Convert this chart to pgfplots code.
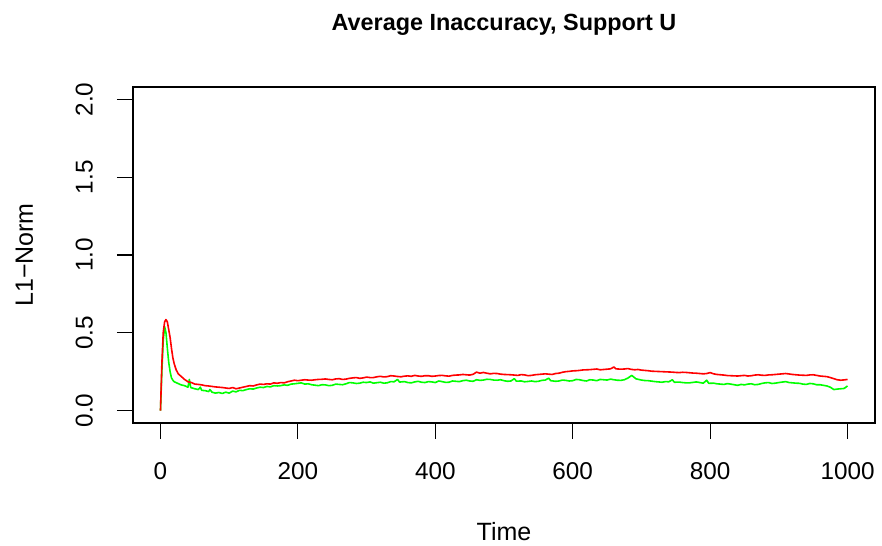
\documentclass[border=0pt]{standalone}
\usepackage{pgfplots}
\pgfplotsset{compat=1.18}
\usepackage{fontspec}
\setmainfont{Liberation Sans}
\definecolor{rgreen}{RGB}{0,255,0}
\definecolor{rred}{RGB}{255,0,0}
\pgfplotstableread{
x y
0 0.00
2 0.25
4 0.45
6 0.54
8 0.50
10 0.40
12 0.31
14 0.25
16 0.21
18 0.195
20 0.185
25 0.175
30 0.165
35 0.160
40 0.150
42 0.200
44 0.148
50 0.140
55 0.135
58 0.150
60 0.130
65 0.128
70 0.122
72 0.135
75 0.118
80 0.112
85 0.116
90 0.110
95 0.118
100 0.112
105 0.125
110 0.120
115 0.130
120 0.128
125 0.135
130 0.140
135 0.138
140 0.145
145 0.150
150 0.148
155 0.155
160 0.152
165 0.160
170 0.158
175 0.160
180 0.165
185 0.162
190 0.170
195 0.172
200 0.175
205 0.178
210 0.170
215 0.172
220 0.166
225 0.163
230 0.160
235 0.166
240 0.165
245 0.160
250 0.162
255 0.170
260 0.168
265 0.166
270 0.172
275 0.180
280 0.178
285 0.174
290 0.176
295 0.182
300 0.180
305 0.184
310 0.176
315 0.179
320 0.182
325 0.176
330 0.178
335 0.186
340 0.185
345 0.200
348 0.183
355 0.186
360 0.180
365 0.178
370 0.184
375 0.188
380 0.182
385 0.180
390 0.186
395 0.184
400 0.180
405 0.190
410 0.186
415 0.181
420 0.182
425 0.190
430 0.188
435 0.186
440 0.192
445 0.195
450 0.190
455 0.188
460 0.198
465 0.194
470 0.196
475 0.201
480 0.200
485 0.196
490 0.195
495 0.198
500 0.192
505 0.188
510 0.190
515 0.205
518 0.189
525 0.190
530 0.185
535 0.187
540 0.190
545 0.186
550 0.188
555 0.194
560 0.196
565 0.208
568 0.192
575 0.188
580 0.190
585 0.196
590 0.194
595 0.190
600 0.192
605 0.200
610 0.198
615 0.193
620 0.190
625 0.198
630 0.196
635 0.192
640 0.200
645 0.198
650 0.196
655 0.202
660 0.198
665 0.195
670 0.194
675 0.198
680 0.208
686 0.226
692 0.204
700 0.196
705 0.193
710 0.192
715 0.189
720 0.186
725 0.184
730 0.182
735 0.186
740 0.185
745 0.198
748 0.182
755 0.183
760 0.180
765 0.178
770 0.178
775 0.181
780 0.184
785 0.180
790 0.176
795 0.195
798 0.175
805 0.176
810 0.172
815 0.170
820 0.168
825 0.173
830 0.170
835 0.166
840 0.162
845 0.168
850 0.165
855 0.170
860 0.172
865 0.166
870 0.168
875 0.174
880 0.178
885 0.180
890 0.174
895 0.176
900 0.180
905 0.183
910 0.186
915 0.180
920 0.178
925 0.176
930 0.175
935 0.170
940 0.168
945 0.174
950 0.172
955 0.166
960 0.166
965 0.162
970 0.158
975 0.150
980 0.135
985 0.138
990 0.140
995 0.142
1000 0.158
}\greentab
\pgfplotstableread{
x y
0 0.00
2 0.30
4 0.50
6 0.57
8 0.585
10 0.57
12 0.52
14 0.47
16 0.40
18 0.34
20 0.30
23 0.26
26 0.235
30 0.220
35 0.200
40 0.185
45 0.180
50 0.170
55 0.168
60 0.165
65 0.160
70 0.158
75 0.155
80 0.152
85 0.150
90 0.148
95 0.145
100 0.142
105 0.148
110 0.140
115 0.145
120 0.150
125 0.155
130 0.160
135 0.158
140 0.165
145 0.170
150 0.168
155 0.172
160 0.170
165 0.178
170 0.175
175 0.180
180 0.178
185 0.185
190 0.190
195 0.195
200 0.192
205 0.195
210 0.198
215 0.196
220 0.195
225 0.198
230 0.200
235 0.201
240 0.203
245 0.200
250 0.198
255 0.203
260 0.205
265 0.200
270 0.202
275 0.207
280 0.210
285 0.212
290 0.207
295 0.210
300 0.215
305 0.212
310 0.212
315 0.217
320 0.220
325 0.216
330 0.218
335 0.224
340 0.222
345 0.219
350 0.217
355 0.221
360 0.223
365 0.220
370 0.226
375 0.222
380 0.220
385 0.224
390 0.224
395 0.220
400 0.222
405 0.225
410 0.226
415 0.223
420 0.221
425 0.226
430 0.228
435 0.229
440 0.232
445 0.230
450 0.228
455 0.233
460 0.247
465 0.240
470 0.245
475 0.240
480 0.236
485 0.239
490 0.238
495 0.234
500 0.232
505 0.231
510 0.230
515 0.228
520 0.226
525 0.231
530 0.229
535 0.224
540 0.226
545 0.230
550 0.232
555 0.234
560 0.236
565 0.234
570 0.232
575 0.238
580 0.240
585 0.246
590 0.250
595 0.252
600 0.255
605 0.256
610 0.258
615 0.261
620 0.262
625 0.263
630 0.265
635 0.267
640 0.262
645 0.264
650 0.266
655 0.268
660 0.280
663 0.268
670 0.266
675 0.267
680 0.270
685 0.265
690 0.262
695 0.264
700 0.260
705 0.258
710 0.256
715 0.253
720 0.252
725 0.251
730 0.250
735 0.249
740 0.248
745 0.247
750 0.245
755 0.244
760 0.246
765 0.245
770 0.243
775 0.241
780 0.240
785 0.238
790 0.236
795 0.238
800 0.244
805 0.236
810 0.232
815 0.230
820 0.228
825 0.225
830 0.224
835 0.223
840 0.222
845 0.224
850 0.226
855 0.222
860 0.224
865 0.228
870 0.230
875 0.227
880 0.226
885 0.229
890 0.230
895 0.232
900 0.234
905 0.236
910 0.238
915 0.235
920 0.232
925 0.230
930 0.228
935 0.227
940 0.226
945 0.229
950 0.230
955 0.226
960 0.222
965 0.220
970 0.218
975 0.212
980 0.205
985 0.198
990 0.195
995 0.197
1000 0.200
}\redtab
\begin{document}
\begin{tikzpicture}[x=1bp,y=1bp]
\useasboundingbox (0,0) rectangle (882,546);
\begin{axis}[
  at={(133bp,123bp)}, anchor=south west,
  scale only axis, width=742bp, height=336bp,
  xmin=-40, xmax=1040, ymin=-0.08, ymax=2.08,
  axis line style={line width=1.1bp, black},
  xtick={0,200,400,600,800,1000}, ytick={0,0.5,1,1.5,2},
  tick align=outside, tick pos=left,
  major tick length=16bp,
  tick style={black, line width=1.1bp},
  /pgf/number format/assume math mode=true,
  /pgf/number format/1000 sep={},
  yticklabel={\pgfmathprintnumber[fixed,fixed zerofill,precision=1]{\tick}},
  ticklabel style={font=\fontsize{24.3bp}{28bp}\selectfont},
  xticklabel style={anchor=north, inner sep=0pt},
  yticklabel style={rotate=90, anchor=south, inner sep=0pt},
  xticklabel shift=23bp,
  yticklabel shift=24bp,
  title={\textbf{Average Inaccuracy, Support U}},
  title style={at={(axis description cs:0.5,1.1517)}, anchor=base, inner sep=0pt, font=\fontsize{23.4bp}{27bp}\selectfont},
  xlabel={Time},
  xlabel style={at={(axis description cs:0.5,-0.351)}, anchor=base, inner sep=0pt, font=\fontsize{25bp}{29bp}\selectfont},
  ylabel={L1−Norm},
  ylabel style={at={(axis description cs:-0.1348,0.5)}, rotate=0, anchor=base, inner sep=0pt, font=\fontsize{25bp}{29bp}\selectfont},
  clip=false,
]
\addplot[rgreen, line width=1.6bp, line join=round] table {\greentab};
\addplot[rred, line width=1.6bp, line join=round] table {\redtab};
\end{axis}
\end{tikzpicture}
\end{document}
